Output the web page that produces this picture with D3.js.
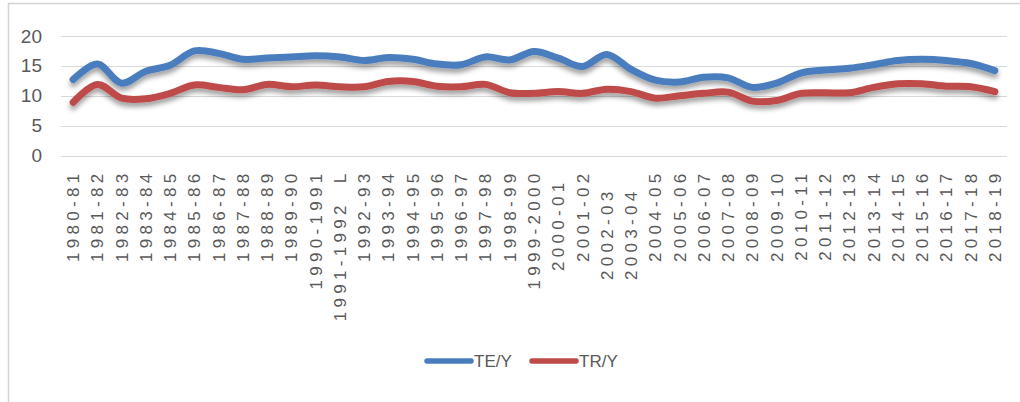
<!DOCTYPE html>
<html>
<head>
<meta charset="utf-8">
<script src="https://cdn.jsdelivr.net/npm/d3@7/dist/d3.min.js"></script>
<style>
  html, body { margin: 0; padding: 0; background: #fff; }
  svg { display: block; }
  .xlab text { white-space: pre; }
</style>
</head>
<body>
<svg id="chart" width="1020" height="402"></svg>
<script>
// Fiscal years
const years = [
  "1980-81","1981-82","1982-83","1983-84","1984-85","1985-86","1986-87","1987-88",
  "1988-89","1989-90","1990-1991","1991-1992  L","1992-93","1993-94","1994-95","1995-96",
  "1996-97","1997-98","1998-99","1999-2000","2000-01 ","2001-02","2002-03  ","2003-04  ",
  "2004-05","2005-06","2006-07","2007-08","2008-09","2009-10","2010-11","2011-12",
  "2012-13","2013-14","2014-15","2015-16","2016-17","2017-18","2018-19"
];

// Total expenditure as % of output
const teY = [
  12.7, 15.3, 12.1, 14.1, 15.1, 17.5, 17.1, 16.1, 16.3, 16.5,
  16.7, 16.5, 15.9, 16.4, 16.1, 15.3, 15.2, 16.5, 16.0, 17.4,
  16.3, 14.9, 16.9, 14.4, 12.6, 12.3, 13.1, 13.0, 11.4, 12.1,
  13.8, 14.3, 14.6, 15.2, 15.9, 16.1, 15.9, 15.4, 14.2
];

// Total revenue as % of output
const trY = [
  8.9, 11.9, 9.6, 9.5, 10.4, 11.8, 11.4, 11.0, 11.9, 11.5,
  11.8, 11.5, 11.5, 12.4, 12.4, 11.6, 11.5, 11.9, 10.5, 10.4,
  10.7, 10.4, 11.1, 10.7, 9.6, 10.0, 10.4, 10.6, 9.1, 9.2,
  10.4, 10.5, 10.5, 11.4, 12.0, 12.0, 11.6, 11.5, 10.7
];

const yTicks = [0, 5, 10, 15, 20];

const series = [
  { name: "TE/Y", values: teY, color: "#4a7dbd" },
  { name: "TR/Y", values: trY, color: "#be4b48" }
];

const svg = d3.select("#chart");

// Chart frame
svg.append("line").attr("x1", 8).attr("x2", 1020).attr("y1", 3.5).attr("y2", 3.5)
  .attr("stroke", "#d4d4d4").attr("stroke-width", 1.5);
svg.append("line").attr("x1", 8.5).attr("x2", 8.5).attr("y1", 3).attr("y2", 402)
  .attr("stroke", "#d4d4d4").attr("stroke-width", 1.5);

const plot = { left: 61, right: 1007, top: 36, bottom: 155.5 };

const x = d3.scaleBand().domain(years).range([plot.left, plot.right]);
const y = d3.scaleLinear().domain([0, 20]).range([plot.bottom, plot.top]);

// Soft shadow under the series lines
const defs = svg.append("defs");
const f = defs.append("filter").attr("id", "shadow")
  .attr("x", "-5%").attr("y", "-50%").attr("width", "110%").attr("height", "200%");
f.append("feDropShadow").attr("dx", 0).attr("dy", 4).attr("stdDeviation", 2.4)
  .attr("flood-color", "#000").attr("flood-opacity", 0.38);

// Gridlines
svg.append("g")
  .selectAll("line").data(yTicks).join("line")
  .attr("x1", plot.left).attr("x2", plot.right)
  .attr("y1", d => Math.round(y(d)) + 0.5).attr("y2", d => Math.round(y(d)) + 0.5)
  .attr("stroke", "#d9d9d9").attr("stroke-width", 1.2);

// Y axis labels
const yAxis = d3.axisLeft(y).tickValues(yTicks).tickSize(0).tickPadding(0);
const gy = svg.append("g").attr("transform", "translate(42,0)").call(yAxis);
gy.select(".domain").remove();
gy.selectAll("text")
  .attr("font-family", "'Liberation Sans', Arial, sans-serif")
  .attr("font-size", 19).attr("fill", "#595959");

// X axis labels, rotated
const xAxis = d3.axisBottom(x).tickSize(0).tickPadding(0);
const gx = svg.append("g").attr("class", "xlab")
  .attr("transform", `translate(0,${plot.bottom})`).call(xAxis);
gx.select(".domain").remove();
gx.selectAll("text")
  .attr("font-family", "'Liberation Sans', Arial, sans-serif")
  .attr("font-size", 17).attr("fill", "#595959")
  .attr("letter-spacing", "4.3px")
  .attr("text-anchor", "end")
  .attr("dy", null).attr("y", 0).attr("x", 0)
  .attr("transform", "translate(6,14) rotate(-90)");

// Series lines
const line = d3.line()
  .x((d, i) => x(years[i]) + x.bandwidth() / 2)
  .y(d => y(d))
  .curve(d3.curveCatmullRom.alpha(0.5));

svg.append("g").attr("filter", "url(#shadow)")
  .selectAll("path").data(series).join("path")
  .attr("d", s => line(s.values))
  .attr("fill", "none")
  .attr("stroke", s => s.color)
  .attr("stroke-width", 7)
  .attr("stroke-linejoin", "round")
  .attr("stroke-linecap", "round");

// Legend
const legend = svg.append("g").attr("transform", "translate(425,361)");
const items = legend.selectAll("g").data(series).join("g")
  .attr("transform", (d, i) => `translate(${i * 105},0)`);
items.append("line").attr("x1", 2).attr("x2", 46).attr("y1", 0).attr("y2", 0)
  .attr("stroke", d => d.color).attr("stroke-width", 5.5).attr("stroke-linecap", "round");
items.append("text").attr("x", 49).attr("y", 0).attr("dy", "0.36em")
  .attr("font-family", "'Liberation Sans', Arial, sans-serif")
  .attr("font-size", 17).attr("fill", "#595959")
  .text(d => d.name);
</script>
</body>
</html>
